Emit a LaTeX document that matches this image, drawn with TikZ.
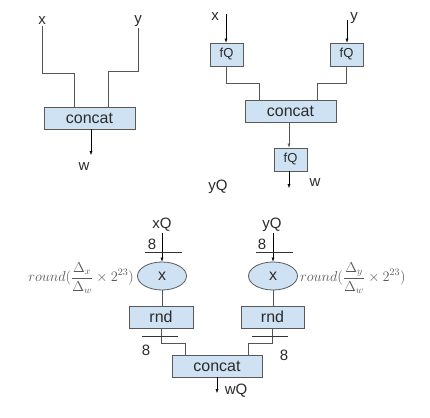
\documentclass[tikz,border=0pt]{standalone}
\usepackage{fontspec}
\setmainfont{Liberation Sans}
\usetikzlibrary{calc}
\usetikzlibrary{arrows.meta}
\usetikzlibrary{shapes.geometric}

\definecolor{boxfill}{HTML}{CFE2F3}
\definecolor{boxline}{HTML}{595959}
\definecolor{txt}{HTML}{2B2B2B}
\definecolor{wirec}{HTML}{555555}

\begin{document}
\begin{tikzpicture}[
        x=1pt, y=-1pt,
        every node/.style={text=txt},
        lbl/.style={font=\fontsize{15}{17}\selectfont, inner sep=1pt},
        box/.style={draw=boxline, fill=boxfill, line width=0.8pt, font=\fontsize{16}{18}\selectfont, inner sep=0pt},
        fq/.style={box, minimum width=33pt, minimum height=23pt, font=\fontsize{13}{15}\selectfont},
        oval/.style={box, ellipse, minimum width=49pt, minimum height=28pt},
        wire/.style={draw=wirec, line width=0.8pt},
        tick/.style={draw=black!80, line width=0.8pt},
        form/.style={text=black!65, font=\fontsize{14.5}{16}\selectfont, inner sep=0pt},
        >={Latex[length=4pt,width=3pt]}
    ]
        \useasboundingbox (0,0) rectangle (430,417);

        % plain concat
        \node[lbl] (x1) at (42,21) {x};
        \node[lbl] (y1) at (138,21) {y};
        \node[box, minimum width=91pt, minimum height=22pt] (cat1) at (89.5,118) {concat};
        \node[lbl] (w1) at (84,167) {w};
        \coordinate (x1b) at (74,73);
        \coordinate (y1b) at (108,71);
        \coordinate (w1e) at (91,155);
        \draw[wire] (x1.south) |- (x1b) -- (x1b |- cat1.north);
        \draw[wire] (y1.south) |- (y1b) -- (y1b |- cat1.north);
        \draw[->] (w1e |- cat1.south) -- (w1e);

        % fake quantized concat
        \node[lbl] (x2) at (215,17) {x};
        \node[lbl] (y2) at (354,18) {y};
        \node[fq] (fqx) at (226.5,54.5) {fQ};
        \node[fq] (fqy) at (346.5,54.5) {fQ};
        \node[box, minimum width=91pt, minimum height=22pt] (cat2) at (290.5,111) {concat};
        \node[fq] (fqw) at (290.5,159.5) {fQ};
        \node[lbl] (w2) at (315,183) {w};
        \node[lbl] (yq0) at (218,187) {yQ};
        \coordinate (x2in) at (226,14);
        \coordinate (y2in) at (347,20);
        \coordinate (x2b) at (259,83);
        \coordinate (y2b) at (317,83);
        \coordinate (w2e) at (289,188);
        \draw[->] (x2in) -- (x2in |- fqx.north);
        \draw[->] (y2in) -- (y2in |- fqy.north);
        \draw[wire] (fqx.south) |- (x2b) -- (x2b |- cat2.north);
        \draw[wire] (fqy.south) |- (y2b) -- (y2b |- cat2.north);
        \draw[->, draw=wirec] (w2e |- cat2.south) -- (w2e |- fqw.north);
        \draw[->] (w2e |- fqw.south) -- (w2e);

        % integer concat
        \node[lbl] (xq) at (162,225) {xQ};
        \node[lbl] (yq) at (272,225) {yQ};
        \node[lbl] (n1) at (152,244) {8};
        \node[lbl] (n2) at (262,244) {8};
        \node[oval] (mx) at (162,276) {x};
        \node[oval] (my) at (273,276) {x};
        \node[form, anchor=east] (fx) at (134,278) {$round(\displaystyle\frac{\Delta_x}{\Delta_w}\times 2^{23})$};
        \node[form, anchor=west] (fy) at (300,278) {$round(\displaystyle\frac{\Delta_y}{\Delta_w}\times 2^{23})$};
        \node[box, minimum width=64pt, minimum height=22pt] (rx) at (161,317) {rnd};
        \node[box, minimum width=63pt, minimum height=22pt] (ry) at (272.5,317) {rnd};
        \node[box, minimum width=90pt, minimum height=22pt] (cat3) at (217,366) {concat};
        \node[lbl] (n3) at (146,350) {8};
        \node[lbl] (n4) at (284,355) {8};
        \node[lbl] (wq) at (236,391) {wQ};
        \coordinate (xqt) at (162,233);
        \coordinate (yqt) at (273,233);
        \coordinate (rxb) at (185,343);
        \coordinate (ryb) at (248,343);
        \coordinate (wqe) at (217,393);
        \draw[->] (xqt) -- (mx.north);
        \draw[->] (yqt) -- (my.north);
        \draw[tick] (145,252) -- (182,252);
        \draw[tick] (256,252) -- (293,252);
        \draw[wire] (mx.south) -- (mx.south |- rx.north);
        \draw[wire] (my.south) -- (my.south |- ry.north);
        \draw[wire] (rx.south) |- (rxb) -- (rxb |- cat3.north);
        \draw[wire] (ry.south) |- (ryb) -- (ryb |- cat3.north);
        \draw[tick] (142,336) -- (178,336);
        \draw[tick] (252,336) -- (288,336);
        \draw[->] (wqe |- cat3.south) -- (wqe);
    \end{tikzpicture}
\end{document}
